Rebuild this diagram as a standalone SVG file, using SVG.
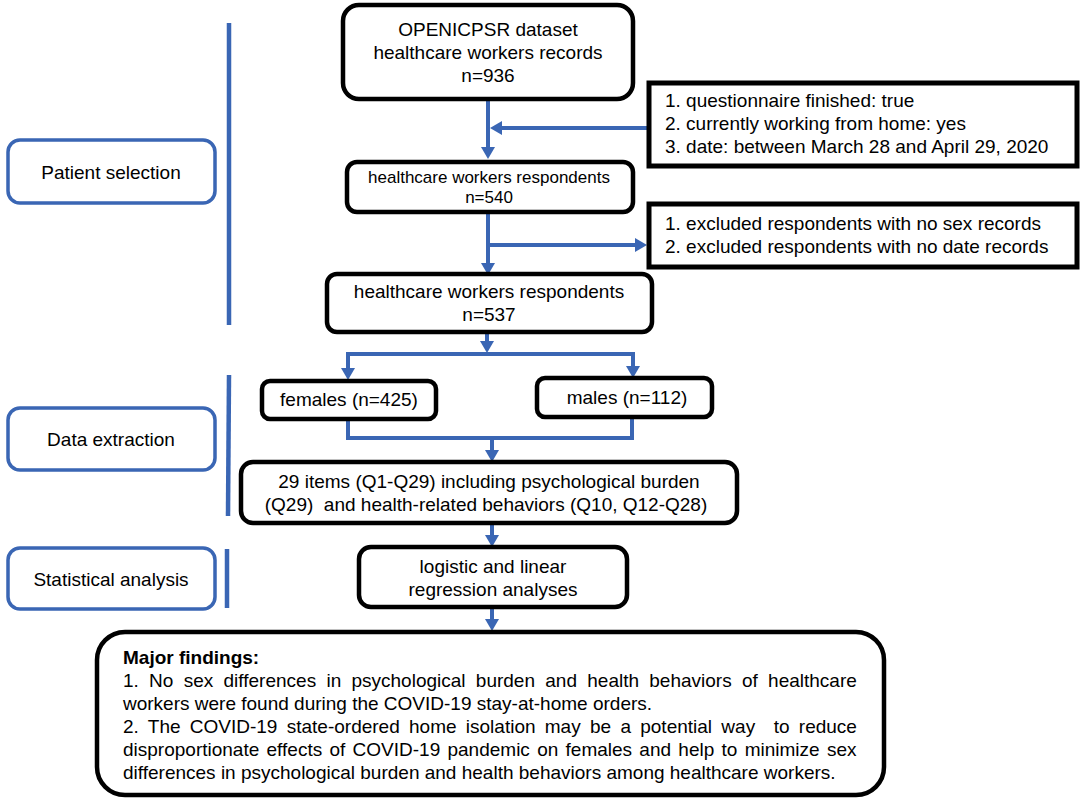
<svg xmlns="http://www.w3.org/2000/svg" width="1084" height="801" viewBox="0 0 1084 801">
<style>
text{font-family:"Liberation Sans",Arial,sans-serif;font-size:19px;fill:#000}
.c{text-anchor:middle}
.box{fill:#fff;stroke:#000;stroke-width:4.5}
.sq{fill:#fff;stroke:#000;stroke-width:5}
.stage{fill:#fff;stroke:#3A66B4;stroke-width:3.5}
.bar{stroke:#3A66B4;stroke-width:4.5;fill:none}
.conn path{stroke:#3A66B4;stroke-width:4;fill:none}
.b{font-weight:bold}
</style>
<defs>
<marker id="ah" viewBox="0 0 12 14" refX="6" refY="7" markerWidth="12" markerHeight="14" markerUnits="userSpaceOnUse" orient="auto">
<path d="M0,0 L12,7 L0,14 z" fill="#3A66B4"/>
</marker>
</defs>

<g id="stage-patient-selection">
<rect class="stage" x="8" y="140" width="207" height="63" rx="12"/>
<text class="c" x="111" y="179">Patient selection</text>
<line class="bar" x1="229" y1="23" x2="229" y2="325"/>
</g>
<g id="stage-data-extraction">
<rect class="stage" x="8" y="408" width="207" height="62" rx="12"/>
<text class="c" x="111" y="446">Data extraction</text>
<line class="bar" x1="229" y1="375" x2="228" y2="516"/>
</g>
<g id="stage-statistical-analysis">
<rect class="stage" x="8" y="548" width="207" height="61" rx="12"/>
<text class="c" x="111" y="586">Statistical analysis</text>
<line class="bar" x1="227" y1="549" x2="227" y2="608"/>
</g>

<g class="conn" id="connectors">
<path d="M488,99 V153" marker-end="url(#ah)"/>
<path d="M649,128 H496" marker-end="url(#ah)"/>
<path d="M488,212 V269" marker-end="url(#ah)"/>
<path d="M488,245 H641" marker-end="url(#ah)"/>
<path d="M487,332 V347" marker-end="url(#ah)"/>
<path d="M487,354 H348 V374" marker-end="url(#ah)"/>
<path d="M487,354 H633 V372" marker-end="url(#ah)"/>
<path d="M348,419 V438 H632 V417"/>
<path d="M492,438 V456" marker-end="url(#ah)"/>
<path d="M492,523 V541" marker-end="url(#ah)"/>
<path d="M492,607 V625" marker-end="url(#ah)"/>
</g>

<g id="node-dataset">
<rect class="box" x="343" y="5" width="290" height="94" rx="16"/>
<text class="c" x="488" y="36">OPENICPSR dataset</text>
<text class="c" x="488" y="59">healthcare workers records</text>
<text class="c" x="488" y="82">n=936</text>
</g>
<g id="node-criteria">
<rect class="sq" x="649" y="83" width="428" height="83"/>
<text x="665" y="107">1. questionnaire finished: true</text>
<text x="665" y="130">2. currently working from home: yes</text>
<text x="665" y="153">3. date: between March 28 and April 29, 2020</text>
</g>
<g id="node-respondents-540">
<rect class="box" x="347" y="162" width="286" height="50" rx="10"/>
<text class="c" x="489" y="183" style="font-size:17px">healthcare workers respondents</text>
<text class="c" x="489" y="203" style="font-size:17px">n=540</text>
</g>
<g id="node-exclusions">
<rect class="sq" x="649" y="204" width="428" height="63"/>
<text x="665" y="230">1. excluded respondents with no sex records</text>
<text x="665" y="253">2. excluded respondents with no date records</text>
</g>
<g id="node-respondents-537">
<rect class="box" x="327" y="274" width="325" height="58" rx="10"/>
<text class="c" x="489" y="298">healthcare workers respondents</text>
<text class="c" x="489" y="321">n=537</text>
</g>
<g id="node-females">
<rect class="box" x="262" y="381" width="174" height="38" rx="8"/>
<text class="c" x="349" y="406">females (n=425)</text>
</g>
<g id="node-males">
<rect class="box" x="537" y="378" width="175" height="39" rx="8"/>
<text class="c" x="627" y="404">males (n=112)</text>
</g>
<g id="node-items">
<rect class="box" x="241" y="462" width="496" height="61" rx="12"/>
<text class="c" x="489" y="488">29 items (Q1-Q29) including psychological burden</text>
<text class="c" x="486" y="511" xml:space="preserve">(Q29)  and health-related behaviors (Q10, Q12-Q28)</text>
</g>
<g id="node-regression">
<rect class="box" x="359" y="547" width="268" height="60" rx="12"/>
<text class="c" x="493" y="573">logistic and linear</text>
<text class="c" x="493" y="596">regression analyses</text>
</g>
<g id="node-findings">
<rect class="box" x="97" y="632" width="787" height="163" rx="28"/>
<text class="b" x="123" y="664">Major findings:</text>
<text x="123" y="687" style="word-spacing:5px">1. No sex differences in psychological burden and health behaviors of healthcare</text>
<text x="123" y="710">workers were found during the COVID-19 stay-at-home orders.</text>
<text x="123" y="733" xml:space="preserve" style="word-spacing:4px">2. The COVID-19 state-ordered home isolation may be a potential way  to reduce</text>
<text x="123" y="756" style="word-spacing:2px">disproportionate effects of COVID-19 pandemic on females and help to minimize sex</text>
<text x="123" y="779">differences in psychological burden and health behaviors among healthcare workers.</text>
</g>
</svg>
